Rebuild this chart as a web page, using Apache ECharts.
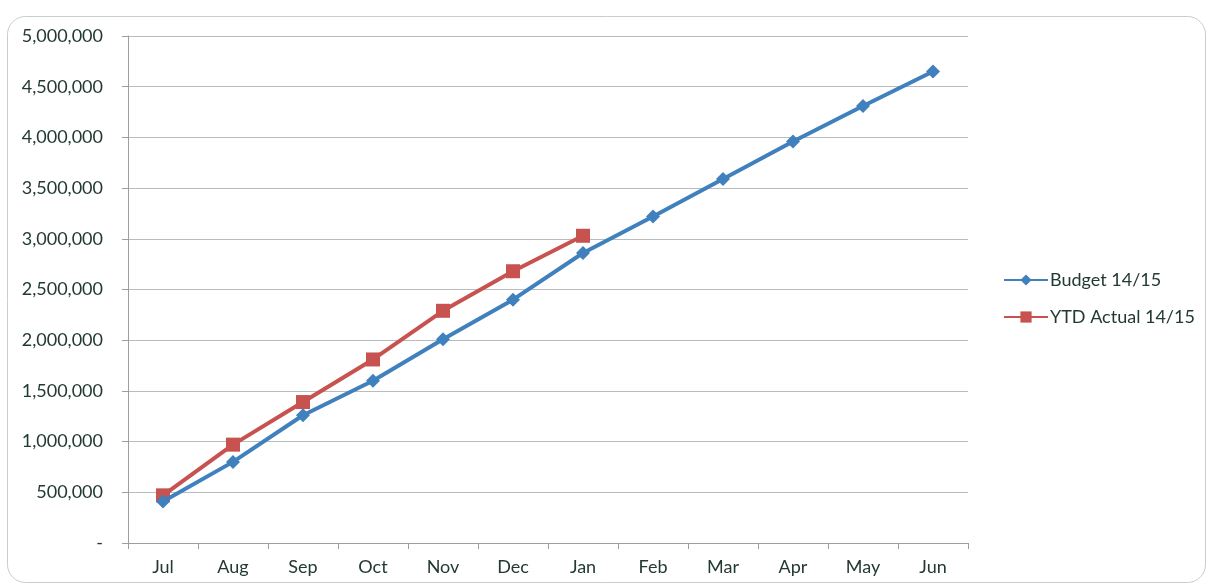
<!DOCTYPE html>
<html>
<head>
<meta charset="utf-8">
<script src="https://cdn.jsdelivr.net/npm/echarts@6/dist/echarts.min.js"></script>
<style>
  html, body { margin: 0; padding: 0; background: #fff; }
  #main { width: 1210px; height: 587px; }
</style>
</head>
<body>
<div id="main"></div>
<script>
// months of the financial year
var months = ['Jul', 'Aug', 'Sep', 'Oct', 'Nov', 'Dec', 'Jan', 'Feb', 'Mar', 'Apr', 'May', 'Jun']
var budget = [410000, 800000, 1260000, 1600000, 2010000, 2400000, 2860000, 3220000, 3590000, 3960000, 4310000, 4650000]
var actual = [470000, 970000, 1390000, 1810000, 2290000, 2680000, 3030000]

var textColor = '#233a31'
var font = 'Lato, "Open Sans", sans-serif'

var chart = echarts.init(document.getElementById('main'))

var option = {
  animation: false,
  color: ['#3f80bd', '#c75250'],
  graphic: [
    {
      type: 'rect',
      left: 5,
      top: 14,
      shape: { width: 1198, height: 566, r: 18 },
      style: { fill: 'none', stroke: '#c9cccc', lineWidth: 1 },
      z: -1
    }
  ],
  legend: {
    orient: 'vertical',
    left: 998,
    top: 266,
    itemWidth: 44,
    itemHeight: 14,
    itemGap: 19,
    textStyle: { color: textColor, fontSize: 18, fontFamily: font, padding: [0, 0, 0, -3] },
    data: ['Budget 14/15', 'YTD Actual 14/15']
  },
  grid: {
    left: 128,
    right: 242,
    top: 36,
    bottom: 44
  },
  xAxis: {
    type: 'category',
    data: months,
    boundaryGap: true,
    axisLine: { lineStyle: { color: '#9a9fa0', width: 1 } },
    axisTick: { show: true, length: 6, lineStyle: { color: '#9a9fa0' } },
    axisLabel: { color: textColor, fontSize: 18, fontFamily: font, margin: 15 }
  },
  yAxis: {
    type: 'value',
    min: 0,
    max: 5000000,
    interval: 500000,
    axisLine: { show: true, lineStyle: { color: '#9a9fa0', width: 1 } },
    axisTick: { show: true, length: 6, lineStyle: { color: '#9a9fa0' } },
    splitLine: { lineStyle: { color: '#b9bcbd', width: 1 } },
    axisLabel: {
      color: textColor,
      fontSize: 18,
      fontFamily: font,
      margin: 25,
      formatter: function (v) {
        return v === 0 ? '-' : v.toLocaleString('en-US')
      }
    }
  },
  series: [
    {
      name: 'Budget 14/15',
      type: 'line',
      data: budget,
      symbol: 'diamond',
      symbolSize: 14,
      lineStyle: { width: 4 },
      z: 3
    },
    {
      name: 'YTD Actual 14/15',
      type: 'line',
      data: actual,
      symbol: 'rect',
      symbolSize: 14,
      lineStyle: { width: 4 },
      z: 2
    }
  ]
}

chart.setOption(option)
</script>
</body>
</html>
